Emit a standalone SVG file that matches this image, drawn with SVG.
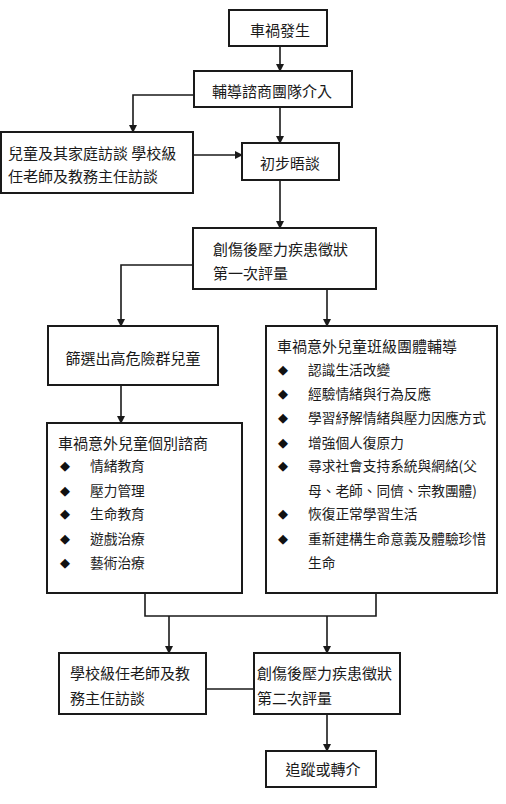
<svg xmlns="http://www.w3.org/2000/svg" width="506" height="804" viewBox="0 0 506 804">
<defs>
<marker id="ah" markerWidth="8" markerHeight="8" refX="7" refY="4" orient="auto" markerUnits="userSpaceOnUse">
<path d="M0,0 L8,4 L0,8 Z" fill="#1a1a1a"/>
</marker>
<style>
.box{fill:#fff;stroke:#1a1a1a;stroke-width:2}
.t{font-family:"Noto Sans CJK TC","Noto Sans CJK SC",sans-serif;font-size:15px;fill:#1a1a1a;dominant-baseline:central}
.s{font-family:"Noto Sans CJK TC","Noto Sans CJK SC",sans-serif;font-size:13.7px;fill:#1a1a1a;dominant-baseline:central}
.b{font-family:"DejaVu Sans","Noto Sans CJK TC",sans-serif;font-size:13px;fill:#111;dominant-baseline:central;text-anchor:middle}
.c{text-anchor:middle}
.ln{fill:none;stroke:#1a1a1a;stroke-width:1.6}
.ar{marker-end:url(#ah)}
</style>
</defs>
<rect width="506" height="804" fill="#fff"/>
<g id="connectors">
<line class="ln ar" x1="280" y1="46" x2="280" y2="71"/>
<polyline class="ln ar" points="194,95 133,95 133,132"/>
<line class="ln ar" x1="280" y1="107" x2="280" y2="143"/>
<line class="ln ar" x1="193" y1="155" x2="242" y2="155"/>
<line class="ln ar" x1="280" y1="180" x2="280" y2="228"/>
<polyline class="ln ar" points="193,265 121,265 121,326"/>
<line class="ln ar" x1="327" y1="289" x2="327" y2="326"/>
<line class="ln ar" x1="121" y1="385" x2="121" y2="423"/>
<polyline class="ln" points="145,593 145,616 376,616 376,593"/>
<line class="ln ar" x1="169" y1="616" x2="169" y2="653"/>
<line class="ln ar" x1="327" y1="616" x2="327" y2="653"/>
<line class="ln" x1="206" y1="689" x2="254" y2="689"/>
<line class="ln ar" x1="327" y1="714" x2="327" y2="751"/>
</g>
<g id="n1">
<rect class="box" x="229" y="10" width="98" height="36"/>
<text class="t c" x="280" y="29">車禍發生</text>
</g>
<g id="n2">
<rect class="box" x="194" y="71" width="158" height="36"/>
<text class="t c" x="272" y="90">輔導諮商團隊介入</text>
</g>
<g id="n3">
<rect class="box" x="1" y="132" width="192" height="61"/>
<text class="t" x="8" y="152">兒童及其家庭訪談 學校級</text>
<text class="t" x="8" y="175">任老師及教務主任訪談</text>
</g>
<g id="n4">
<rect class="box" x="242" y="143" width="97" height="37"/>
<text class="t c" x="290" y="162">初步晤談</text>
</g>
<g id="n5">
<rect class="box" x="193" y="228" width="183" height="61"/>
<text class="t" x="213" y="248">創傷後壓力疾患徵狀</text>
<text class="t" x="213" y="272">第一次評量</text>
</g>
<g id="n6">
<rect class="box" x="48" y="326" width="170" height="59"/>
<text class="t c" x="133" y="357">篩選出高危險群兒童</text>
</g>
<g id="n7">
<rect class="box" x="266" y="326" width="231" height="267"/>
<text class="t" x="277" y="345">車禍意外兒童班級團體輔導</text>
<text class="b" x="283" y="369">◆</text><text class="s" x="308" y="369">認識生活改變</text>
<text class="b" x="283" y="393">◆</text><text class="s" x="308" y="393">經驗情緒與行為反應</text>
<text class="b" x="283" y="417">◆</text><text class="s" x="308" y="417">學習紓解情緒與壓力因應方式</text>
<text class="b" x="283" y="442">◆</text><text class="s" x="308" y="442">增強個人復原力</text>
<text class="b" x="283" y="465">◆</text><text class="s" x="308" y="465">尋求社會支持系統與網絡(父</text>
<text class="s" x="308" y="490">母、老師、同儕、宗教團體)</text>
<text class="b" x="283" y="513">◆</text><text class="s" x="308" y="513">恢復正常學習生活</text>
<text class="b" x="283" y="538">◆</text><text class="s" x="308" y="538">重新建構生命意義及體驗珍惜</text>
<text class="s" x="308" y="562">生命</text>
</g>
<g id="n8">
<rect class="box" x="47" y="423" width="195" height="170"/>
<text class="t" x="58" y="442">車禍意外兒童個別諮商</text>
<text class="b" x="65" y="465">◆</text><text class="s" x="90" y="465">情緒教育</text>
<text class="b" x="65" y="490">◆</text><text class="s" x="90" y="490">壓力管理</text>
<text class="b" x="65" y="513">◆</text><text class="s" x="90" y="513">生命教育</text>
<text class="b" x="65" y="538">◆</text><text class="s" x="90" y="538">遊戲治療</text>
<text class="b" x="65" y="562">◆</text><text class="s" x="90" y="562">藝術治療</text>
</g>
<g id="n9">
<rect class="box" x="59" y="653" width="147" height="61"/>
<text class="t" x="70" y="672">學校級任老師及教</text>
<text class="t" x="70" y="697">務主任訪談</text>
</g>
<g id="n10">
<rect class="box" x="254" y="653" width="146" height="61"/>
<text class="t" x="257" y="672">創傷後壓力疾患徵狀</text>
<text class="t" x="257" y="697">第二次評量</text>
</g>
<g id="n11">
<rect class="box" x="266" y="751" width="110" height="36"/>
<text class="t c" x="323" y="768">追蹤或轉介</text>
</g>
</svg>
